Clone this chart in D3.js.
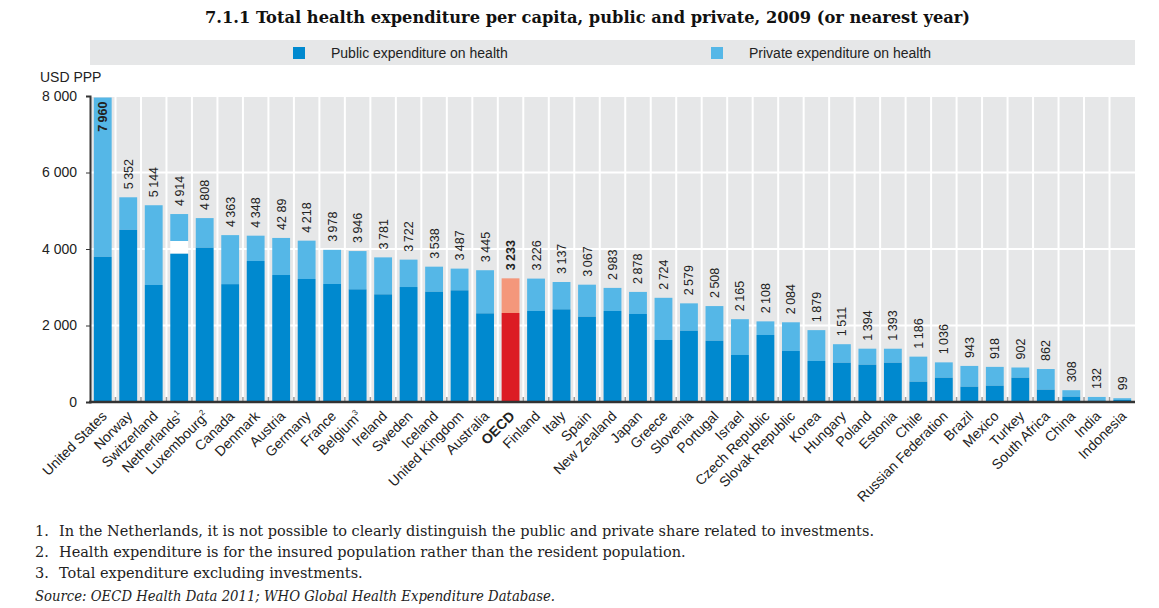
<!DOCTYPE html>
<html>
<head>
<meta charset="utf-8">
<script src="https://cdn.jsdelivr.net/npm/d3@7"></script>
<style>
  body { margin: 0; background: #fff; }
  .narrow { font-family: "Liberation Sans Narrow", "Arial Narrow", "Liberation Sans", sans-serif; }
  .serif { font-family: "DejaVu Serif", "Liberation Serif", serif; }
</style>
</head>
<body>
<div class="chart"></div>
<script>
// data
var countries = ["United States", "Norway", "Switzerland", "Netherlands", "Luxembourg", "Canada", "Denmark",
  "Austria", "Germany", "France", "Belgium", "Ireland", "Sweden", "Iceland", "United Kingdom", "Australia",
  "OECD", "Finland", "Italy", "Spain", "New Zealand", "Japan", "Greece", "Slovenia", "Portugal", "Israel",
  "Czech Republic", "Slovak Republic", "Korea", "Hungary", "Poland", "Estonia", "Chile", "Russian Federation",
  "Brazil", "Mexico", "Turkey", "South Africa", "China", "India", "Indonesia"];
var footMarks = {"Netherlands": "1", "Luxembourg": "2", "Belgium": "3"};
var totals = [7960, 5352, 5144, 4914, 4808, 4363, 4348, 4289, 4218, 3978, 3946, 3781, 3722, 3538, 3487, 3445,
  3233, 3226, 3137, 3067, 2983, 2878, 2724, 2579, 2508, 2165, 2108, 2084, 1879, 1511, 1394, 1393, 1186, 1036,
  943, 918, 902, 862, 308, 132, 99];
var publicExp = [3795, 4500, 3060, 3877, 4035, 3081, 3686, 3320, 3216, 3085, 2946, 2815, 3006, 2884, 2920, 2318,
  2327, 2379, 2423, 2231, 2379, 2301, 1621, 1865, 1603, 1229, 1752, 1333, 1072, 1028, 976, 1028, 532, 636,
  401, 427, 636, 323, 139, 40, 52];
// Netherlands: part of the total not split between public and private (investments)
var unallocated = {"Netherlands": 332};
var labelOverride = {"Austria": "42 89"};
var yTicks = [0, 2000, 4000, 6000, 8000];
var footnotes = [
  "In the Netherlands, it is not possible to clearly distinguish the public and private share related to investments.",
  "Health expenditure is for the insured population rather than the resident population.",
  "Total expenditure excluding investments."
];
var source = "Source:  OECD Health Data 2011; WHO Global Health Expenditure Database.";

var colPublic = "#0089cf", colPrivate = "#55b7e7",
    colOecdPublic = "#dc1c24", colOecdPrivate = "#f4977b";

var fmt = d3.formatLocale({decimal: ".", thousands: "\u2009", grouping: [3], currency: ["", ""]}).format(",");
var fmtTick = d3.formatLocale({decimal: ".", thousands: " ", grouping: [3], currency: ["", ""]}).format(",");

var W = 1159, H = 608,
    margin = {top: 96, right: 24, bottom: 206, left: 90},
    width = W - margin.left - margin.right,
    height = H - margin.top - margin.bottom;

var svg = d3.select(".chart").append("svg")
    .attr("width", W)
    .attr("height", H);

// title
svg.append("text")
  .attr("class", "serif")
  .attr("x", 205).attr("y", 23)
  .attr("font-weight", "bold")
  .attr("font-size", 16)
  .attr("fill", "#111")
  .attr("textLength", 765)
  .attr("lengthAdjust", "spacingAndGlyphs")
  .text("7.1.1  Total health expenditure per capita, public and private, 2009 (or nearest year)");

// legend band
var legend = svg.append("g").attr("class", "narrow");
legend.append("rect")
  .attr("x", margin.left).attr("y", 40)
  .attr("width", width).attr("height", 25)
  .attr("fill", "#e6e7e8");
[["Public expenditure on health", colPublic, 293], ["Private expenditure on health", colPrivate, 711]].forEach(function(l) {
  legend.append("rect").attr("x", l[2]).attr("y", 47).attr("width", 12).attr("height", 12).attr("fill", l[1]);
  legend.append("text").attr("x", l[2] + 38).attr("y", 58)
    .attr("font-size", 14).attr("fill", "#222").text(l[0]);
});

var g = svg.append("g")
    .attr("transform", "translate(" + margin.left + "," + margin.top + ")");

var x = d3.scaleBand()
    .domain(countries)
    .range([0, width])
    .paddingInner(0.3)
    .paddingOuter(0.15);

var y = d3.scaleLinear()
    .domain([0, 8000])
    .range([height, 0]);

// plot background and grid
g.append("rect").attr("width", width).attr("height", height).attr("fill", "#e6e7e8");

var step = x.step();
g.selectAll(".vgrid")
    .data(countries.slice(1))
  .enter().append("line")
    .attr("x1", d => x(d) - step * 0.15)
    .attr("x2", d => x(d) - step * 0.15)
    .attr("y1", 0).attr("y2", height)
    .attr("stroke", "#fff").attr("stroke-width", 2);

g.selectAll(".hgrid")
    .data(yTicks.slice(1))
  .enter().append("line")
    .attr("x1", 0).attr("x2", width)
    .attr("y1", d => y(d)).attr("y2", d => y(d))
    .attr("stroke", "#fff").attr("stroke-width", 2);

// bars
var rows = countries.map(function(c, i) {
  var gap = unallocated[c] || 0;
  return {country: c, total: totals[i], pub: publicExp[i], gap: gap};
});

var bars = g.selectAll(".bar")
    .data(rows)
  .enter().append("g")
    .attr("class", "bar");

bars.append("rect")
    .attr("x", d => x(d.country))
    .attr("width", x.bandwidth())
    .attr("y", d => y(d.total))
    .attr("height", d => y(d.pub + d.gap) - y(d.total))
    .attr("fill", d => d.country === "OECD" ? colOecdPrivate : colPrivate);

bars.filter(d => d.gap > 0).append("rect")
    .attr("x", d => x(d.country))
    .attr("width", x.bandwidth())
    .attr("y", d => y(d.pub + d.gap))
    .attr("height", d => y(d.pub) - y(d.pub + d.gap))
    .attr("fill", "#fff");

bars.append("rect")
    .attr("x", d => x(d.country))
    .attr("width", x.bandwidth())
    .attr("y", d => y(d.pub))
    .attr("height", d => height - y(d.pub))
    .attr("fill", d => d.country === "OECD" ? colOecdPublic : colPublic);

// value labels
bars.append("text")
    .attr("class", "narrow")
    .attr("font-size", 12.5)
    .attr("fill", "#222")
    .attr("font-weight", d => d.country === "OECD" || y(d.total) < 40 ? "bold" : "normal")
    .attr("text-anchor", d => y(d.total) < 40 ? "end" : "start")
    .attr("transform", function(d) {
      var cx = x(d.country) + x.bandwidth() / 2 + 4.5;
      var ty = y(d.total) < 40 ? y(d.total) + 4 : y(d.total) - 8;
      return "translate(" + cx + "," + ty + ") rotate(-90)";
    })
    .text(d => labelOverride[d.country] || fmt(d.total));

// small ticks between columns at the base
g.selectAll(".btick")
    .data(countries.slice(1))
  .enter().append("line")
    .attr("x1", d => x(d) - step * 0.15)
    .attr("x2", d => x(d) - step * 0.15)
    .attr("y1", height - 5).attr("y2", height)
    .attr("stroke", "#9a9a9a").attr("stroke-width", 1.5);

// axes
var yAxis = g.append("g")
    .attr("class", "y axis narrow")
    .call(d3.axisLeft(y).tickValues(yTicks).tickSize(4).tickFormat(fmtTick));
yAxis.select(".domain").attr("stroke", "#333").attr("stroke-width", 2);
yAxis.selectAll(".tick line").attr("stroke", "#333");
yAxis.selectAll(".tick text").attr("font-size", 14).attr("fill", "#222").attr("x", -13)
    .attr("font-family", "Liberation Sans Narrow, Arial Narrow, Liberation Sans, sans-serif");

g.append("line")
    .attr("x1", -1).attr("x2", width)
    .attr("y1", height).attr("y2", height)
    .attr("stroke", "#333").attr("stroke-width", 2.5);

svg.append("text")
  .attr("class", "narrow")
  .attr("x", 40).attr("y", 82)
  .attr("font-size", 14).attr("fill", "#222")
  .text("USD PPP");

// category labels
var xl = g.selectAll(".xlabel")
    .data(countries)
  .enter().append("text")
    .attr("class", "narrow")
    .attr("font-size", 14)
    .attr("fill", "#222")
    .attr("font-weight", d => d === "OECD" ? "bold" : "normal")
    .attr("text-anchor", "end")
    .attr("transform", d => "translate(" + (x(d) + x.bandwidth() / 2 + 5) + "," + (height + 15) + ") rotate(-45)");
xl.append("tspan").text(d => d);
xl.filter(d => footMarks[d]).append("tspan")
    .attr("font-size", 8).attr("dy", -6)
    .text(d => footMarks[d]);

// footnotes
var notes = svg.append("g").attr("class", "serif").attr("font-size", 14.5).attr("fill", "#222");
footnotes.forEach(function(t, i) {
  notes.append("text").attr("x", 35).attr("y", 536 + i * 21).text((i + 1) + ".");
  notes.append("text").attr("x", 59).attr("y", 536 + i * 21).text(t);
});
notes.append("text")
  .attr("x", 35).attr("y", 601)
  .attr("font-style", "italic")
  .attr("textLength", 520)
  .attr("lengthAdjust", "spacingAndGlyphs")
  .text(source);
</script>
</body>
</html>
